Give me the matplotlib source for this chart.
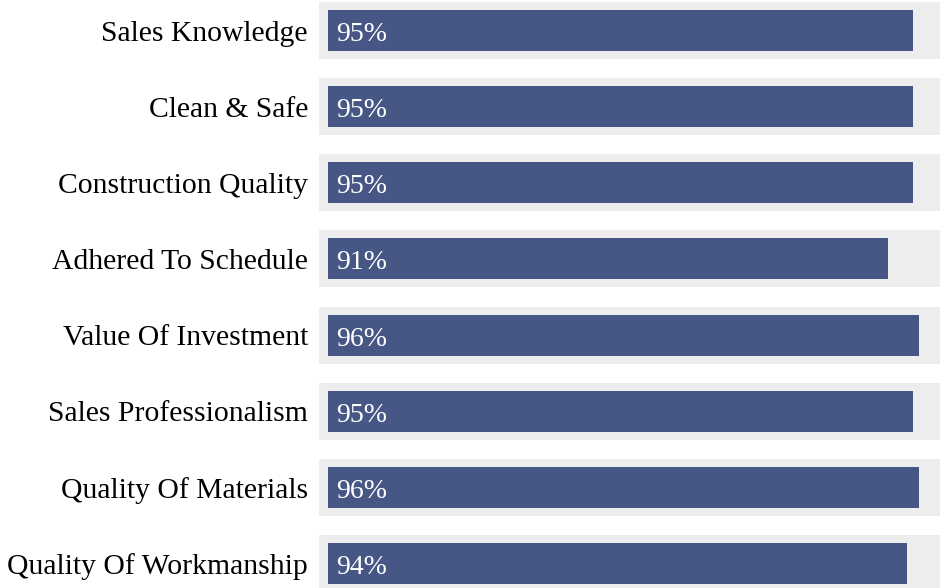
import matplotlib.pyplot as plt
from matplotlib.transforms import ScaledTranslation

categories = ["Sales Knowledge", "Clean & Safe", "Construction Quality",
              "Adhered To Schedule", "Value Of Investment", "Sales Professionalism",
              "Quality Of Materials", "Quality Of Workmanship"]
scores = [95, 95, 95, 91, 96, 95, 96, 94]

plt.rcParams['font.family'] = ['Liberation Serif', 'DejaVu Serif']

W, H = 940, 588
fig = plt.figure(figsize=(W / 100, H / 100), dpi=100)

# axes spans from gray bar left edge to right edge of figure
left_px = 319
ax = fig.add_axes([left_px / W, 0, 1 - left_px / W, 1])
px_per_pct = 6.25
ax.set_xlim(0, (W - left_px) / px_per_pct)

pitch = 76.15
top_center = 30.5
ax.set_ylim((H - top_center) / pitch, -top_center / pitch)

y = list(range(len(categories)))
inset = 1.5
ax.barh(y, [100] * len(y), height=57 / pitch, color='#ededed', left=0)
ax.barh(y, [s - inset for s in scores], height=41 / pitch, left=inset, color='#465786')

for i, s in enumerate(scores):
    ax.text(inset + 1.3, i + 10.5 / pitch, f"{s}%", color='white',
            va='baseline', ha='left', fontsize=20)

ax.set_yticks(y)
ax.set_yticklabels(categories, fontsize=21.3)
ax.tick_params(axis='y', length=0, pad=8)
shift = ScaledTranslation(0, -0.102, fig.dpi_scale_trans)
for lab in ax.get_yticklabels():
    lab.set_verticalalignment('baseline')
    lab.set_transform(lab.get_transform() + shift)
ax.set_xticks([])
for sp in ax.spines.values():
    sp.set_visible(False)

fig.savefig("out.png", dpi=100)
